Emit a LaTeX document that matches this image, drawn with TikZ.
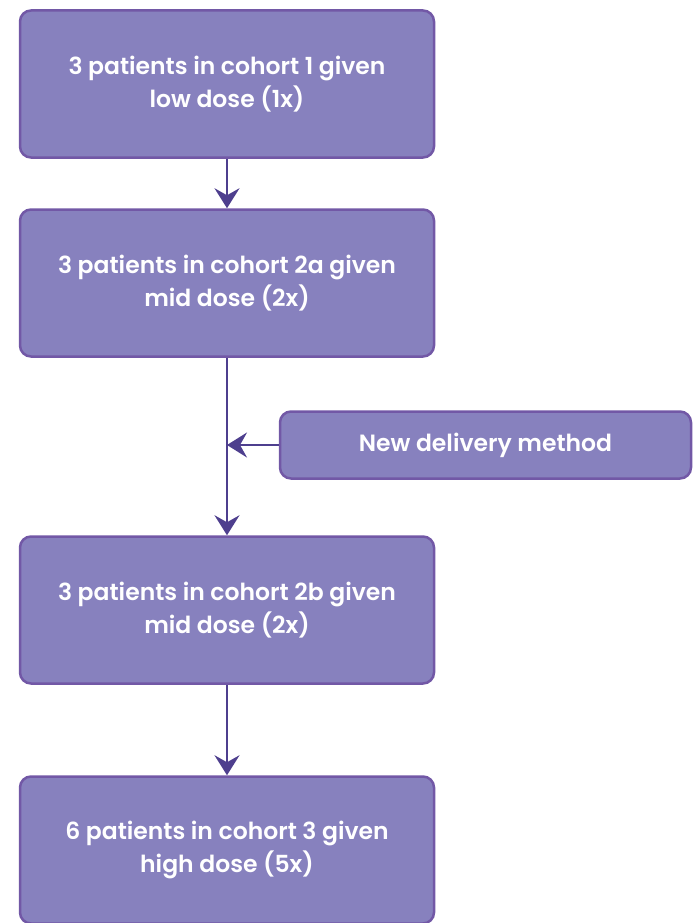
\documentclass[tikz,border=0pt]{standalone}
\usepackage{fontspec}
\setmainfont{Poppins}[UprightFont=* SemiBold]
\usepackage{tikz}
\usetikzlibrary{arrows.meta}

\definecolor{boxfill}{HTML}{8781BE}
\definecolor{boxline}{HTML}{7258A6}
\definecolor{arrowcol}{HTML}{4E3F8E}

\begin{document}
\begin{tikzpicture}[x=1pt,y=1pt]
        % Define the style for cohort boxes
        \tikzstyle{cohort}=[rectangle, rounded corners=11pt, draw=boxline, line width=2.5pt, fill=boxfill,
            text=white, font=\fontsize{23.5}{33}\selectfont, align=center,
            minimum width=414pt, minimum height=147pt, inner sep=0pt]
        \tikzstyle{flow}=[draw=arrowcol, line width=2.2pt, -{Stealth[length=20pt, width=25pt, inset=7pt]}]

        \useasboundingbox (0,0) rectangle (695,-923);

        % Define the nodes
        \node[cohort] (c1) at (227,-84) {3 patients in cohort 1 given\\low dose (1x)};
        \node[cohort] (c2a) at (227,-283) {3 patients in cohort 2a given\\mid dose (2x)};
        \node[cohort] (c2b) at (227,-610) {3 patients in cohort 2b given\\mid dose (2x)};
        \node[cohort] (c3) at (227,-850) {6 patients in cohort 3 given\\high dose (5x)};
        \node[cohort, minimum width=411pt, minimum height=67pt] (method) at (485.5,-445) {New delivery method};

        % Define the arrows
        \draw[flow] (c1) -- (c2a);
        \draw[flow] (c2a) -- (c2b);
        \draw[flow] (c2b) -- (c3);
        \coordinate (join) at (c2a.south |- method.west);
        \draw[flow] (method) -- (join);
    \end{tikzpicture}
\end{document}
